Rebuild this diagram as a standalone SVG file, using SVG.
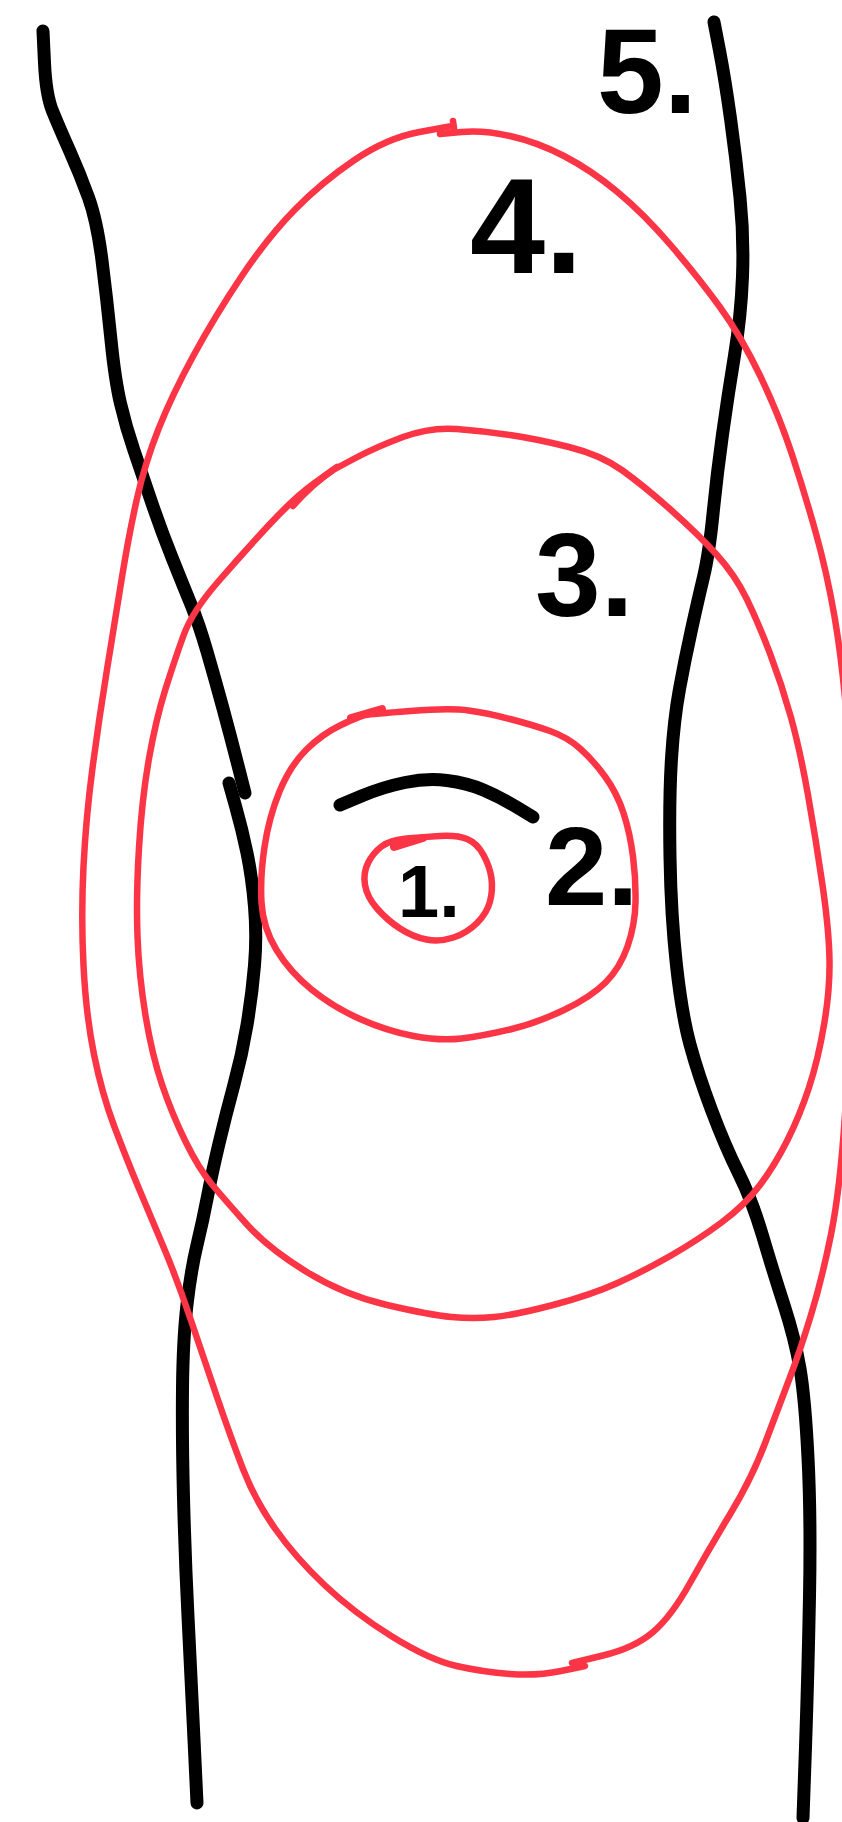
<svg xmlns="http://www.w3.org/2000/svg" width="842" height="1822" viewBox="0 0 842 1822">
<style>
.ink{fill:none;stroke:#000;stroke-width:13;stroke-linecap:round;stroke-linejoin:round}
.red{fill:none;stroke:#fc3546;stroke-width:6.5;stroke-linecap:round;stroke-linejoin:round}
.tick{fill:none;stroke:#fc3546;stroke-width:8;stroke-linecap:round}
.lbl{font-family:"Liberation Sans",Arial,sans-serif;font-weight:bold;fill:#000}
</style>
<rect width="842" height="1822" fill="#fff"/>
<g id="connectors">
<path class="ink" d="M 43 31 L 44.5 63 Q 46 95 52.5 111 Q 59 127 69.5 150.5 Q 80 174 88.5 197.5 Q 97 221 102 260.5 Q 107 300 111 340 Q 115 380 120.5 403.5 Q 126 427 134 450.5 Q 142 474 151.5 502 Q 161 530 172 557.5 Q 183 585 191 604.5 Q 199 624 207 651.5 Q 215 679 223 708.5 Q 231 738 238 765.5 L 245 793"/>
<path class="ink" d="M 229 783 L 235.5 806 Q 242 829 247 853 Q 252 877 254.5 906.5 Q 257 936 254.5 965.5 Q 252 995 247 1025 Q 242 1055 234 1084.5 Q 226 1114 219 1143.5 Q 212 1173 207.5 1196.5 Q 203 1220 197 1245 Q 191 1270 187 1304.5 Q 183 1339 182.5 1388.5 Q 182 1438 183.5 1497.5 Q 185 1557 188 1616.5 Q 191 1676 194 1739.5 L 197 1803"/>
<path class="ink" d="M 714 22 L 719.5 50.5 Q 725 79 730.5 118.5 Q 736 158 740 197.5 Q 744 237 742.5 276.5 Q 741 316 734.5 355.5 Q 728 395 722.5 434.5 Q 717 474 713 514 Q 709 554 703.5 577 Q 698 600 691.5 629.5 Q 685 659 679.5 689 Q 674 719 671.5 758.5 Q 669 798 670 857 Q 671 916 676.5 965.5 Q 682 1015 690 1044.5 Q 698 1074 711.5 1110 Q 725 1146 738.5 1173 Q 752 1200 762.5 1235.5 Q 773 1271 784 1305 Q 795 1339 800 1368.5 Q 805 1398 808 1457.5 Q 811 1517 809.5 1596.5 Q 808 1676 805.5 1747 L 803 1818"/>
</g>
<g id="region-4">
<path class="red" d="M 453 121 L 454 128 M 452 126 L 419.5 132 Q 387 138 354.5 160 Q 322 182 295 209.5 Q 268 237 241.5 276.5 Q 215 316 193.5 355.5 Q 172 395 158.5 429 Q 145 463 137 498.5 Q 129 534 122 577 Q 115 620 107 669.5 Q 99 719 92.5 768 Q 86 817 83.5 866.5 Q 81 916 83.5 965.5 Q 86 1015 94 1054.5 Q 102 1094 114.5 1127 Q 127 1160 138.5 1187.5 Q 150 1215 163.5 1247 Q 177 1279 190.5 1319 Q 204 1359 217.5 1398.5 Q 231 1438 243 1469 Q 255 1500 275 1528.5 Q 295 1557 324.5 1585 Q 354 1613 392 1636.5 Q 430 1660 456.5 1666 Q 483 1672 510 1674 Q 537 1676 561 1671 L 585 1666"/>
<path class="red" d="M 440 134 L 461.5 132 Q 483 130 510 136 Q 537 142 564 156 Q 591 170 617.5 192 Q 644 214 671 245.5 Q 698 277 719.5 306.5 Q 741 336 760 375.5 Q 779 415 792 454.5 Q 805 494 816 533.5 Q 827 573 834.5 616.5 Q 842 660 847 720 Q 852 780 853.5 840 Q 855 900 852.5 970 Q 850 1040 845 1115 Q 840 1190 831 1234.5 Q 822 1279 811 1315 Q 800 1351 789.5 1378.5 Q 779 1406 765.5 1442 Q 752 1478 730.5 1513.5 Q 709 1549 690 1583 Q 671 1617 652.5 1632.5 Q 634 1648 603 1655.5 L 572 1663"/>
<text class="lbl" x="470" y="273" font-size="135">4.</text>
</g>
<g id="region-3">
<path class="red" d="M 333 470 L 354.5 458.5 Q 376 447 403 437 Q 430 427 456.5 429 Q 483 431 510 435 Q 537 439 569 447 Q 601 455 622.5 470.5 Q 644 486 671 510 Q 698 534 716.5 554.5 Q 735 575 746.5 598.5 Q 758 622 770 653.5 Q 782 685 791 717.5 Q 800 750 808 795 Q 816 840 822.5 885 Q 829 930 829.5 960 Q 830 990 824 1025 Q 818 1060 809 1087.5 Q 800 1115 787.5 1140 Q 775 1165 760 1185 Q 745 1205 721.5 1222.5 Q 698 1240 671 1255.5 Q 644 1271 617.5 1283 Q 591 1295 553 1305 Q 515 1315 494 1317 Q 473 1319 451.5 1317 Q 430 1315 387 1305 Q 344 1295 306 1271.5 Q 268 1248 246.5 1224 Q 225 1200 212 1184.5 Q 199 1169 185.5 1141.5 Q 172 1114 162 1084.5 Q 152 1055 145.5 1015.5 Q 139 976 137.5 936.5 Q 136 897 139 847.5 Q 142 798 149 758.5 Q 156 719 165.5 689 Q 175 659 183.5 635.5 Q 192 612 217 583 Q 242 554 268.5 525.5 Q 295 497 314 483.5 L 333 470"/>
<path class="red" d="M 293 506 Q 312 484 337 467"/>
<text class="lbl" x="535" y="616" font-size="118">3.</text>
</g>
<g id="region-2">
<path class="red" d="M 410.5 711 Q 450 708 468.5 710.5 Q 487 713 510 719 Q 533 725 550 731 Q 567 737 580 748.5 Q 593 760 605 776.5 Q 617 793 623.5 813 Q 630 833 633 856.5 Q 636 880 635.5 902.5 Q 635 925 627.5 946.5 Q 620 968 605.5 982.5 Q 591 997 564 1010 Q 537 1023 510 1029.5 Q 483 1036 461.5 1038.5 Q 440 1041 413.5 1036 Q 387 1031 360 1019 Q 333 1007 311.5 989.5 Q 290 972 276.5 950 Q 263 928 261.5 902.5 Q 260 877 264.5 847 Q 269 817 279.5 791.5 Q 290 766 306 750 Q 322 734 341 725 Q 360 716 365.5 715 Q 371 714 410.5 711"/>
<path class="tick" d="M 351 718 L 382 709"/>
<path class="ink" d="M 340 805 L 361.5 796 Q 383 787 405 782.5 Q 427 778 447 780.5 Q 467 783 483.5 790 Q 500 797 516.5 807 L 533 817"/>
<text class="lbl" x="545" y="905" font-size="112">2.</text>
</g>
<g id="region-1">
<path class="red" d="M 440 836 Q 457 835 467 839 Q 477 843 483.5 855 Q 490 867 491.5 878.5 Q 493 890 490 901.5 Q 487 913 477 923 Q 467 933 453.5 937.5 Q 440 942 426.5 939.5 Q 413 937 400 928.5 Q 387 920 377 908.5 Q 367 897 365 885 Q 363 873 368 863 Q 373 853 381.5 846.5 Q 390 840 406.5 838.5 Q 423 837 440 836"/>
<path class="tick" d="M 394 847 L 423 838"/>
<text class="lbl" x="398" y="917" font-size="74">1.</text>
</g>
<g id="label-5">
<text class="lbl" x="597" y="113" font-size="120">5.</text>
</g>
</svg>
